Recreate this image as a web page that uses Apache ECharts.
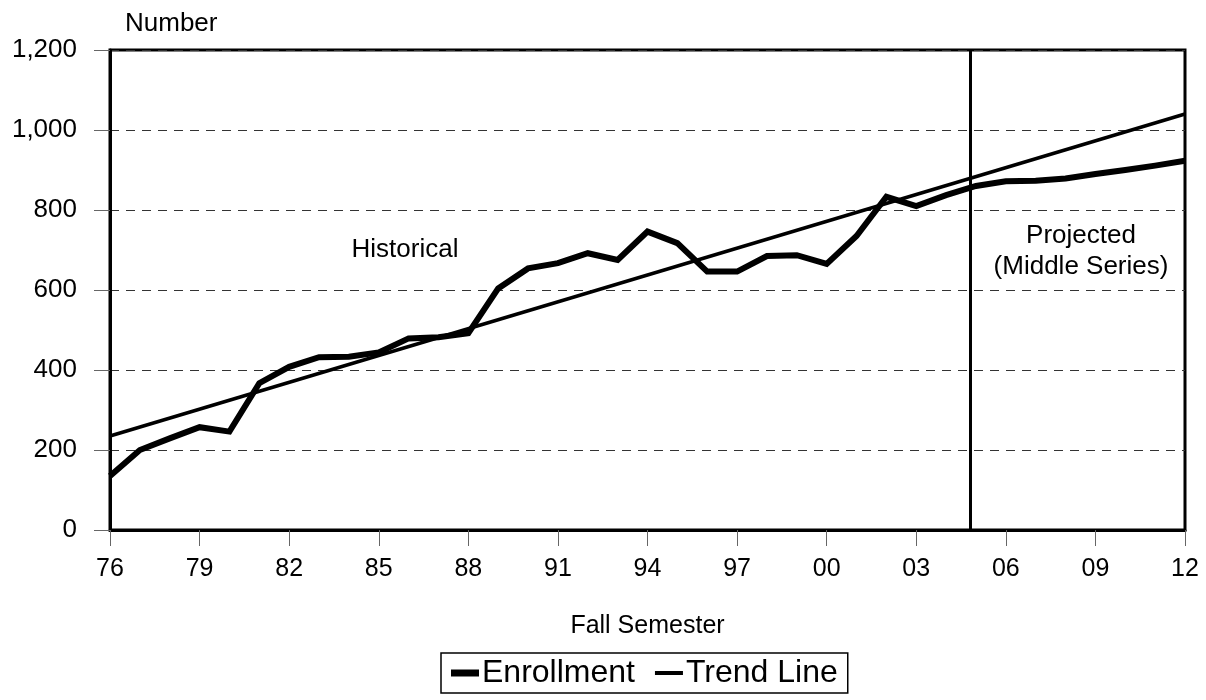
<!DOCTYPE html>
<html>
<head>
<meta charset="utf-8">
<script src="https://cdn.jsdelivr.net/npm/echarts@6/dist/echarts.min.js"></script>
<style>
  html, body { margin: 0; padding: 0; background: #fff; }
  #main { width: 1206px; height: 700px; }
</style>
</head>
<body>
<div id="main"></div>
<script>
// 年份 1976-2012，x 轴用序号 0..36
var startYear = 1976;
var enrollment = [135, 200, 229, 257, 246, 367, 408, 432, 433, 444,
	479, 482, 492, 604, 654, 667, 692, 675, 746, 717,
	646, 646, 685, 687, 665, 735, 833, 810, 837, 860,
	872, 873, 879, 890, 900, 911, 923];
var trendEnds = [[0, 235], [36, 1040]];
var splitPos = 28.8; // 历史 / 预测 分界

var font = '"Liberation Sans", Arial, sans-serif';

var enrollData = enrollment.map(function (v, i) { return [i, v]; });

var option = {
	animation: false,
	backgroundColor: '#fff',
	textStyle: { fontFamily: font, color: '#000' },
	grid: {
		left: 110, right: 21, top: 50, bottom: 170,
		show: true, borderColor: '#000', borderWidth: 3
	},
	xAxis: {
		type: 'value',
		min: 0, max: 36, interval: 3,
		name: 'Fall Semester',
		nameLocation: 'middle',
		nameGap: 84,
		nameTextStyle: { fontSize: 25, fontFamily: font, color: '#000', verticalAlign: 'top' },
		axisLine: { show: true, lineStyle: { color: '#000', width: 3 } },
		axisTick: { show: true, length: 16, lineStyle: { color: '#666' } },
		axisLabel: {
			fontSize: 25, color: '#000', fontFamily: font, margin: 27,
			formatter: function (v) {
				var y = (startYear + v) % 100;
				return (y < 10 ? '0' : '') + y;
			}
		},
		splitLine: { show: false }
	},
	yAxis: {
		type: 'value',
		min: 0, max: 1200, interval: 200,
		axisLine: { show: true, lineStyle: { color: '#000', width: 3 } },
		axisTick: { show: true, length: 16, lineStyle: { color: '#666' } },
		axisLabel: {
			fontSize: 26, color: '#000', fontFamily: font, margin: 33,
			formatter: function (v) { return v.toLocaleString('en-US'); }
		},
		splitLine: { show: true, lineStyle: { color: '#333', type: [9, 7], width: 1 } }
	},
	legend: {
		left: 441, top: 653,
		orient: 'horizontal',
		padding: [4, 10, 4, 10],
		borderColor: '#000', borderWidth: 1.5,
		itemWidth: 28, itemHeight: 7, itemGap: 20,
		textStyle: { fontSize: 32, fontFamily: font, color: '#000', padding: [0, 0, 0, -2] },
		data: [
			{ name: 'Enrollment', icon: 'rect' },
			{ name: 'Trend Line', icon: 'path://M0,0h28v4h-28z' }
		]
	},
	graphic: [
		{ type: 'text', left: 125, top: 11, style: { text: 'Number', font: '26px ' + font, fill: '#000' } },
		{ type: 'text', x: 405, y: 250, style: { text: 'Historical', font: '26px ' + font, fill: '#000', align: 'center', verticalAlign: 'middle' } },
		{ type: 'text', x: 1081, y: 236, style: { text: 'Projected', font: '26px ' + font, fill: '#000', align: 'center', verticalAlign: 'middle' } },
		{ type: 'text', x: 1081, y: 267, style: { text: '(Middle Series)', font: '26px ' + font, fill: '#000', align: 'center', verticalAlign: 'middle' } }
	],
	series: [
		{
			name: 'Enrollment',
			type: 'line',
			data: enrollData,
			showSymbol: false,
			lineStyle: { color: '#000', width: 6, join: 'miter' },
			itemStyle: { color: '#000' },
			z: 3,
			markLine: {
				silent: true,
				symbol: ['none', 'none'],
				label: { show: false },
				lineStyle: { color: '#000', width: 3, type: 'solid' },
				data: [{ xAxis: splitPos }]
			}
		},
		{
			name: 'Trend Line',
			type: 'line',
			data: trendEnds,
			showSymbol: false,
			lineStyle: { color: '#000', width: 3.5 },
			itemStyle: { color: '#000' },
			z: 2
		}
	]
};

var chart = echarts.init(document.getElementById('main'));
chart.setOption(option);
</script>
</body>
</html>
